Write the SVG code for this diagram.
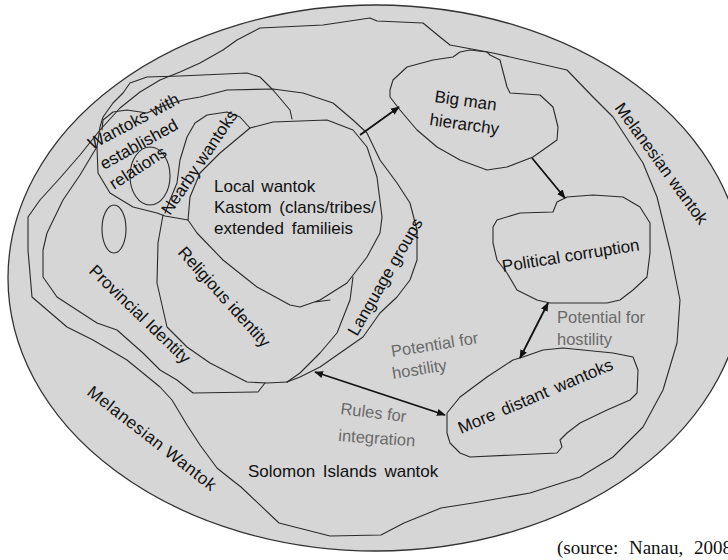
<svg xmlns="http://www.w3.org/2000/svg" width="728" height="560" viewBox="0 0 728 560">
<style>
.o{fill:none;stroke:#2a2a2a;stroke-width:1.1;stroke-linejoin:round;stroke-linecap:round}
.t{font-family:"Liberation Sans",Arial,sans-serif;font-size:17px;fill:#111}
.g{font-family:"Liberation Sans",Arial,sans-serif;font-size:16.5px;fill:#6a6a6a}
.c{fill:none;stroke:#111;stroke-width:1.8}
</style>
<defs>
<marker id="ah" viewBox="0 0 10 10" refX="9" refY="5" markerWidth="5" markerHeight="5" orient="auto-start-reverse" markerUnits="strokeWidth">
<path d="M0,1 L10,5 L0,9 Z" fill="#111"/>
</marker>
</defs>
<rect width="728" height="560" fill="#fff"/>
<g id="melanesian">
<ellipse cx="376" cy="278" rx="368" ry="273" fill="#d6d6d6" stroke="#333" stroke-width="1.3"/>
<text class="t" transform="translate(614,108) rotate(54)">Melanesian  wantok</text>
<text class="t" transform="translate(86,394) rotate(38)" letter-spacing="0.6">Melanesian Wantok</text>
</g>
<g id="solomon">
<path class="o" d="M180,72 L200,63 L223,50 L237,40 L260,28 L323,25 L370,18 L377,21 L423,23 L440,37 L450,45 L493,53 L567,70 L593,97 L613,117 L643,163 L657,197 L670,250 L680,300 L677,343 L663,390 L643,427 L613,457 L580,477 L530,493 L473,503 L441,508 L404,523 L381,535 L330,536 L279,523 L241,487 L232,480 L217,468 L200,445 L187,425 L172,400 L160,387 L127,360 L93,340 L67,327 L32,297 L28,250 L28,217 L40,200 L60,178 L80,155 L100,130 L120,108 L140,92 L160,80 Z"/>
<text class="t" x="248" y="477" word-spacing="3">Solomon Islands  wantok</text>
</g>
<g id="provincial">
<path class="o" d="M97,147 L95,150 L80,175 L63,200 L47,233 L43,250 L43,277 L57,297 L80,312 L97,323 L117,330 L143,353 L160,370 L177,380 L193,393 L258,392 L265,383"/>
<text class="t" transform="translate(88,272) rotate(44)">Provincial Identity</text>
<ellipse class="o" cx="114" cy="229" rx="12" ry="24"/>
</g>
<g id="established">
<path class="o" d="M292,119 L290,110 L273,90 L260,77 L247,73 L180,76 L147,77 L130,83 L123,93 L113,103 L103,117 L100,127 L97,147 L98,173 L110,193 L133,207 L157,213 L165,216 L188,220"/>
<ellipse class="o" cx="150" cy="176" rx="20" ry="29"/>
<text class="t" transform="translate(92,150) rotate(-28)">Wantoks  with</text>
<text class="t" transform="translate(104,170) rotate(-29)">established</text>
<text class="t" transform="translate(114,190) rotate(-33)">relations</text>
</g>
<g id="language">
<path class="o" d="M102,130 L103,120 L113,112 L127,110 L147,113 L160,107 L183,100 L200,97 L227,90 L273,89 L303,93 L333,103 L353,120 L367,133 L380,160 L397,183 L410,203 L417,230 L417,260 L410,280 L397,297 L380,313 L363,337 L340,353 L320,367 L300,377 L287,382"/>
<path class="o" d="M353,277 L350,300 L337,333 L320,353 L300,373 L287,382"/>
<text class="t" transform="translate(357,337) rotate(-60)">Language groups</text>
</g>
<g id="religious">
<path class="o" d="M163,215 L158,243 L157,283 L167,327 L187,347 L210,363 L247,382 L267,383 L287,382"/>
<text class="t" transform="translate(177,253) rotate(48)">Religious identity</text>
</g>
<g id="nearby">
<path class="o" d="M165,213 L170,200 L177,183 L180,160 L187,137 L195,123 L207,115 L227,112 L240,117 L250,128"/>
<text class="t" transform="translate(170,216) rotate(-56)">Nearby wantoks</text>
</g>
<g id="local">
<path class="o" d="M250,128 L273,122 L327,120 L353,130 L367,147 L377,177 L382,217 L380,233 L367,257 L347,283 L320,300 L300,307 L290,305 L257,287 L223,260 L197,233 L188,220 L190,197 L200,173 L220,153 Z M315,302 L330,300"/>
<text class="t" x="214" y="192" word-spacing="2">Local wantok</text>
<text class="t" x="214" y="213" word-spacing="3">Kastom (clans/tribes/</text>
<text class="t" x="214" y="234" word-spacing="3">extended familieis</text>
</g>
<g id="bigman">
<path class="o" d="M390,90 L393,80 L407,67 L433,60 L453,57 L460,52 L470,50 L487,52 L490,55 L500,60 L507,87 L510,93 L540,95 L553,107 L558,127 L557,140 L533,157 L507,167 L487,170 L460,160 L437,147 L417,130 L400,110 L390,97 Z"/>
<text class="t" transform="translate(434,102) rotate(8)">Big man</text>
<text class="t" transform="translate(429,125) rotate(8)">hierarchy</text>
</g>
<g id="political">
<path class="o" d="M493,227 L497,220 L520,213 L553,212 L557,202 L567,197 L593,195 L623,197 L640,207 L650,223 L650,253 L647,277 L633,290 L620,300 L607,303 L550,303 L537,300 L517,290 L507,273 L497,260 L493,243 Z"/>
<text class="t" transform="translate(503,272) rotate(-9)">Political corruption</text>
</g>
<g id="distant">
<path class="o" d="M447,413 L460,397 L487,377 L513,360 L523,357 L543,350 L563,348 L613,353 L633,357 L638,370 L637,393 L630,400 L607,410 L580,423 L567,433 L563,437 L560,440 L562,447 L557,453 L470,457 L460,453 L450,443 L447,433 Z"/>
<text class="t" transform="translate(461,434) rotate(-23)" word-spacing="3">More distant  wantoks</text>
</g>
<g id="labels">
<text class="g" transform="translate(392,357) rotate(-9)">Potential for</text>
<text class="g" transform="translate(393,379) rotate(-9)">hostility</text>
<text class="g" x="557" y="323">Potential for</text>
<text class="g" x="557" y="345">hostility</text>
<text class="g" transform="translate(340,414) rotate(7)">Rules for</text>
<text class="g" transform="translate(338,441) rotate(4)">integration</text>
</g>
<g id="connectors">
<line class="c" x1="360" y1="135" x2="399" y2="107" marker-end="url(#ah)"/>
<line class="c" x1="532" y1="158" x2="565" y2="198" marker-end="url(#ah)"/>
<line class="c" x1="520" y1="358" x2="548" y2="303" marker-start="url(#ah)" marker-end="url(#ah)"/>
<line class="c" x1="315" y1="372" x2="445" y2="415" marker-start="url(#ah)" marker-end="url(#ah)"/>
</g>
<text x="557" y="554" font-family="'Liberation Serif','Times New Roman',serif" font-size="19" fill="#111" word-spacing="6">(source: Nanau, 2008</text>
</svg>
